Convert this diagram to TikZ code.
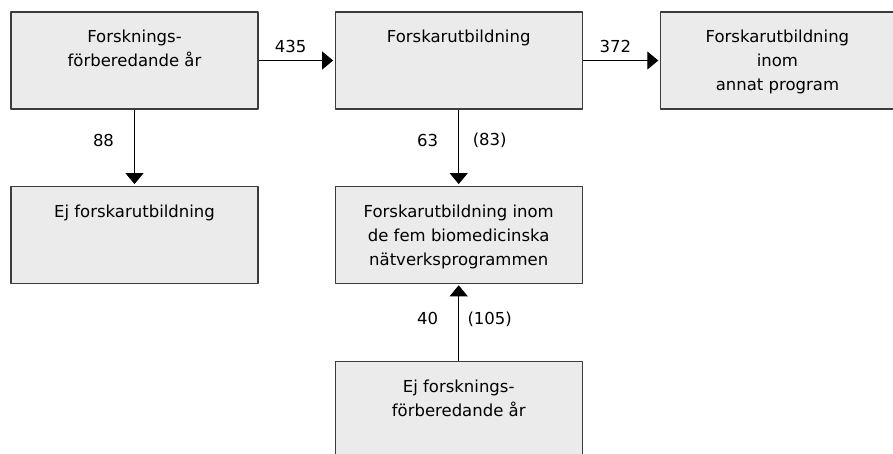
\documentclass[tikz,border=0pt]{standalone}
\usepackage{fontspec}
\setmainfont{DejaVu Sans}
\usetikzlibrary{positioning,arrows.meta}
\definecolor{boxgray}{HTML}{EBEBEB}
\definecolor{edgegray}{HTML}{3C3C3C}
% text sits at the top of a fixed box
\newcommand{\boxtext}[2][247pt]{\parbox[c][97pt][t]{#1}{\centering\vspace*{14pt}\strut#2}}
\begin{document}
\begin{tikzpicture}[line join=round,>=stealth,font=\fontsize{16.5}{24}\selectfont]
	\tikzset{box/.style={draw=edgegray,fill=boxgray,line width=1.2pt,inner sep=0pt},
		flow/.style={line width=1pt,-{Triangle[width=18pt,length=11pt]},shorten >=1.5pt},
		lbl/.style={inner sep=0pt}}
	\useasboundingbox (0pt,0pt) rectangle (893pt,-453pt);
	\node[box] (fa) at (134.5pt,-60.5pt) {\boxtext{Forsknings-\\förberedande år}};
	\node[box,right=76pt of fa] (fb) {\boxtext{Forskarutbildning}};
	\node[box,right=77pt of fb] (fc) {\boxtext[234pt]{Forskarutbildning\\inom\\annat program}};
	\node[box,below=76pt of fa] (ej) {\boxtext{Ej forskarutbildning}};
	\node[box,below=76pt of fb] (fn) {\boxtext{Forskarutbildning inom\\de fem biomedicinska\\nätverksprogrammen}};
	\node[box,below=77pt of fn] (ef) {\boxtext{Ej forsknings-\\förberedande år}};
	\draw[flow] (fa) -- (fb) node[lbl,midway,xshift=-6pt,yshift=14pt] (n435) {435};
	\draw[flow] (fb) -- (fc) node[lbl,midway,xshift=-6pt,yshift=14pt] (n372) {372};
	\draw[flow] (fa) -- (ej) node[lbl,pos=.41,xshift=-31pt] (n88) {88};
	\draw[flow] (fb) -- (fn) node[lbl,pos=.41,xshift=-31pt] (n63) {63}
		node[lbl,pos=.41,xshift=31pt] (n83) {(83)};
	\draw[flow] (ef) -- (fn) node[lbl,pos=.545,xshift=-31pt] (n40) {40}
		node[lbl,pos=.545,xshift=31pt] (n105) {(105)};
\end{tikzpicture}
\end{document}
